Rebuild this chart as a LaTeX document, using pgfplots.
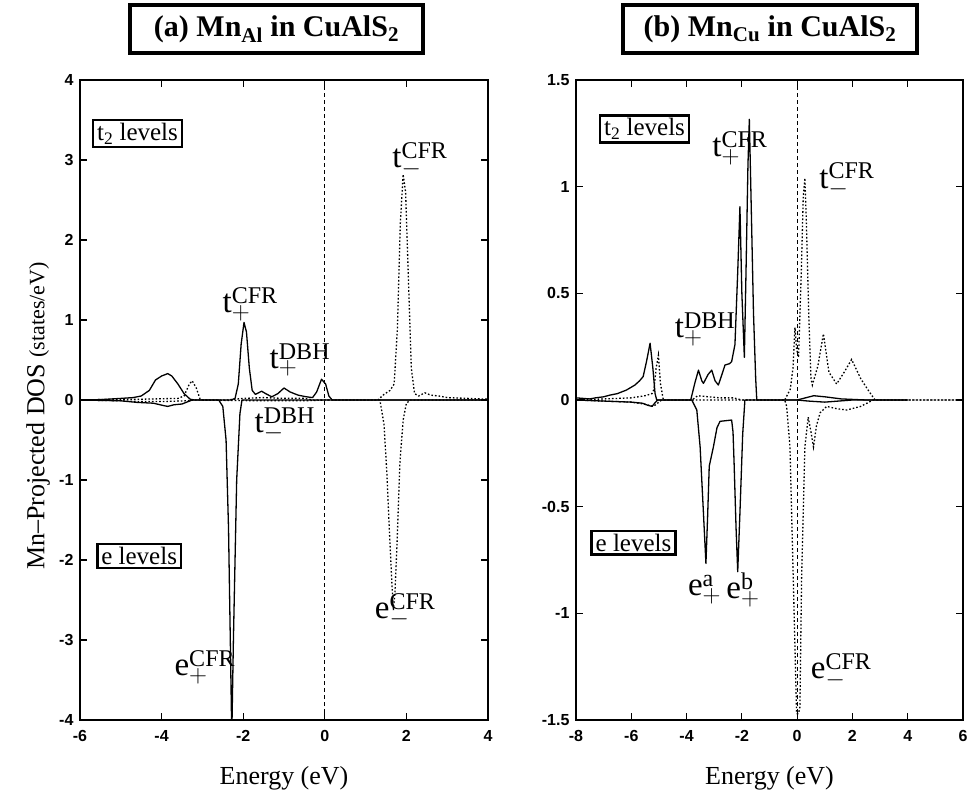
\documentclass[border=0pt]{standalone}
\usepackage{fontspec}
\setmainfont{Liberation Serif}
\newfontfamily\tickfont{Liberation Sans}
\usepackage{pgfplots}
\pgfplotsset{compat=1.18}
\DeclareMathSizes{33}{33}{24}{18}
\newcommand{\lab}{\fontsize{33}{33}\selectfont}
\tikzset{lbox/.style={draw, line width=2.5pt, fill=white, inner xsep=4pt, inner ysep=3pt, font=\fontsize{25}{25}\selectfont}}
\begin{document}
\begin{tikzpicture}[x=1pt,y=1pt]
\path[use as bounding box] (0,0) rectangle (968,800);
\pgfplotsset{
  dosaxis/.style={
    scale only axis, anchor=south west,
    axis line style={line width=1.6pt},
    every tick/.style={line width=1.2pt, black},
    major tick length=7pt, tick align=inside,
    ticklabel style={font=\fontsize{16}{16}\selectfont\tickfont\bfseries},
    /pgf/number format/assume math mode=true,
    xticklabel style={yshift=-7pt},
    yticklabel style={xshift=-3pt},
  },
  solidc/.style={black, line width=1.3pt, line join=round},
  dotc/.style={black, line width=1.3pt, dash pattern=on 1.6pt off 2pt},
  zeroc/.style={black, line width=0.9pt, dash pattern=on 4pt off 3pt},
}
% ---------- panel (a)
\begin{axis}[dosaxis, at={(80pt,80pt)}, width=408pt, height=640pt,
  xmin=-6, xmax=4, ymin=-4, ymax=4,
  xtick={-6,-4,...,4}, ytick={-4,-3,...,4}]
\addplot[zeroc] coordinates {(0,-4) (0,4)};
% t2 spin up
\addplot[solidc] coordinates {(-6,0) (-5.5,0.005) (-5.0,0.02) (-4.7,0.03) (-4.5,0.05) (-4.3,0.12) (-4.15,0.25) (-4.0,0.3) (-3.85,0.33) (-3.75,0.3) (-3.6,0.2) (-3.45,0.08) (-3.3,0.01) (-3.2,0) (-2.3,0) (-2.2,0.02) (-2.12,0.2) (-2.05,0.7) (-1.98,0.97) (-1.92,0.85) (-1.85,0.4) (-1.78,0.12) (-1.7,0.07) (-1.55,0.11) (-1.45,0.08) (-1.3,0.04) (-1.15,0.08) (-1.0,0.15) (-0.85,0.1) (-0.65,0.06) (-0.45,0.04) (-0.3,0.03) (-0.2,0.1) (-0.08,0.26) (0.02,0.2) (0.1,0.05) (0.18,0) (4,0)};
% t2 spin down
\addplot[dotc] coordinates {(-6,0) (-5,0.01) (-4.5,0.01) (-3.6,0.02) (-3.45,0.05) (-3.32,0.2) (-3.25,0.24) (-3.15,0.15) (-3.05,0) (-2.4,0) (-2.0,0.02) (-1.5,0.03) (-1.0,0.02) (-0.5,0.02) (-0.3,0) (1.3,0) (1.45,0.07) (1.6,0.12) (1.7,0.2) (1.78,0.9) (1.85,2.2) (1.92,2.82) (1.98,2.6) (2.05,1.5) (2.12,0.4) (2.2,0.08) (2.3,0.05) (2.45,0.09) (2.6,0.06) (2.8,0.05) (3.0,0.03) (3.5,0.02) (4,0.01)};
% e spin up
\addplot[solidc] coordinates {(-6,0) (-5.0,-0.01) (-4.6,-0.03) (-4.2,-0.04) (-3.95,-0.07) (-3.85,-0.08) (-3.7,-0.06) (-3.5,-0.05) (-3.35,-0.02) (-3.25,0) (-2.6,0) (-2.5,-0.08) (-2.42,-0.5) (-2.36,-1.6) (-2.31,-3.2) (-2.28,-4.2) (-2.24,-3.0) (-2.16,-1.0) (-2.08,-0.17) (-2.03,0) (4,0)};
% e spin down
\addplot[dotc] coordinates {(-6,0) (-5,-0.01) (-4.5,-0.02) (-4,-0.02) (-3.4,-0.01) (-3.2,0) (-1.5,-0.01) (-0.5,-0.01) (0,0) (1.35,0) (1.45,-0.3) (1.52,-0.9) (1.58,-1.6) (1.64,-2.25) (1.68,-2.63) (1.72,-2.4) (1.77,-1.8) (1.84,-0.79) (1.92,-0.25) (2.0,-0.04) (2.1,0) (4,0)};
\node[font=\lab] at (axis cs:2.33,3.0) {$\mathrm{t}^{\mathrm{CFR}}_{-}$};
\node[font=\lab] at (axis cs:-1.83,1.2) {$\mathrm{t}^{\mathrm{CFR}}_{+}$};
\node[font=\lab] at (axis cs:-0.61,0.5) {$\mathrm{t}^{\mathrm{DBH}}_{+}$};
\node[font=\lab] at (axis cs:-0.98,-0.31) {$\mathrm{t}^{\mathrm{DBH}}_{-}$};
\node[font=\lab] at (axis cs:-2.94,-3.34) {$\mathrm{e}^{\mathrm{CFR}}_{+}$};
\node[font=\lab] at (axis cs:1.97,-2.63) {$\mathrm{e}^{\mathrm{CFR}}_{-}$};
\node[lbox] at (axis cs:-4.59,3.33) {t\textsubscript{2} levels};
\node[lbox] at (axis cs:-4.55,-1.95) {e levels};
\end{axis}
% ---------- panel (b)
\begin{axis}[dosaxis, at={(576pt,80pt)}, width=387pt, height=640pt,
  xmin=-8, xmax=6, ymin=-1.5, ymax=1.5,
  xtick={-8,-6,...,6}, ytick={-1.5,-1,...,1.5}]
\addplot[zeroc] coordinates {(0,-1.5) (0,1.5)};
% t2 spin up
\addplot[solidc] coordinates {(-8,0.01) (-7.5,0.005) (-7.3,0.01) (-7,0.015) (-6.77,0.023) (-6.5,0.03) (-6.17,0.047) (-5.87,0.07) (-5.7,0.09) (-5.57,0.11) (-5.45,0.18) (-5.32,0.266) (-5.22,0.15) (-5.14,0.03) (-5.08,0) (-3.85,0) (-3.7,0.08) (-3.57,0.14) (-3.45,0.09) (-3.39,0.078) (-3.22,0.12) (-3.09,0.14) (-2.97,0.09) (-2.85,0.07) (-2.72,0.12) (-2.61,0.164) (-2.45,0.17) (-2.37,0.18) (-2.25,0.26) (-2.15,0.6) (-2.07,0.906) (-2.0,0.5) (-1.91,0.2) (-1.85,0.6) (-1.78,1.1) (-1.73,1.316) (-1.66,0.9) (-1.58,0.41) (-1.5,0.1) (-1.46,0) (0,0) (0.3,0.01) (0.6,0.02) (1.0,0.015) (1.3,0.01) (1.6,0.005) (2.5,0) (4,0)};
% t2 spin down
\addplot[dotc] coordinates {(-8,0) (-7,0.005) (-6,0.01) (-5.5,0.02) (-5.25,0.03) (-5.18,0.05) (-5.1,0.15) (-5.02,0.21) (-4.95,0.08) (-4.84,0) (-3.8,0) (-3.6,0.02) (-3.2,0.015) (-2.8,0.01) (-2.3,0.01) (-2.0,0) (-0.45,0) (-0.25,0.05) (-0.15,0.15) (-0.08,0.34) (-0.02,0.24) (0.05,0.2) (0.15,0.6) (0.22,0.95) (0.28,1.04) (0.33,0.85) (0.42,0.4) (0.5,0.1) (0.55,0.07) (0.75,0.16) (0.95,0.31) (1.15,0.13) (1.43,0.075) (1.7,0.13) (1.97,0.19) (2.3,0.1) (2.6,0.04) (2.82,0) (6,0)};
% e spin up
\addplot[solidc] coordinates {(-8,0) (-7,-0.005) (-6,-0.01) (-5.6,-0.015) (-5.4,-0.025) (-5.25,-0.03) (-5.12,-0.01) (-5.05,0) (-3.81,0) (-3.63,-0.047) (-3.51,-0.22) (-3.39,-0.53) (-3.3,-0.766) (-3.24,-0.55) (-3.18,-0.31) (-3.03,-0.22) (-2.9,-0.13) (-2.79,-0.10) (-2.37,-0.094) (-2.32,-0.15) (-2.28,-0.3) (-2.21,-0.6) (-2.15,-0.805) (-2.07,-0.53) (-1.97,-0.16) (-1.89,0) (0,0) (0.4,-0.005) (1.0,-0.01) (2.0,0) (4,0)};
% e spin down
\addplot[dotc] coordinates {(-8,0) (-6,-0.01) (-5.5,-0.02) (-5.2,-0.03) (-5.0,-0.01) (-4.9,0) (-0.45,0) (-0.38,-0.03) (-0.26,-0.22) (-0.14,-0.84) (-0.02,-1.47) (0.05,-1.47) (0.10,-1.44) (0.16,-0.84) (0.28,-0.22) (0.40,-0.08) (0.5,-0.15) (0.59,-0.22) (0.7,-0.12) (0.83,-0.06) (1.07,-0.03) (1.4,-0.04) (1.79,-0.047) (2.3,-0.03) (2.75,0) (6,0)};
\node[font=\lab] at (axis cs:-2.07,1.18) {$\mathrm{t}^{\mathrm{CFR}}_{+}$};
\node[font=\lab] at (axis cs:1.8,1.03) {$\mathrm{t}^{\mathrm{CFR}}_{-}$};
\node[font=\lab] at (axis cs:-3.33,0.33) {$\mathrm{t}^{\mathrm{DBH}}_{+}$};
\node[font=\lab] at (axis cs:-3.35,-0.89) {$\mathrm{e}^{\mathrm{a}}_{+}$};
\node[font=\lab] at (axis cs:-1.96,-0.89) {$\mathrm{e}^{\mathrm{b}}_{+}$};
\node[font=\lab] at (axis cs:1.59,-1.27) {$\mathrm{e}^{\mathrm{CFR}}_{-}$};
\node[lbox] at (axis cs:-5.52,1.27) {t\textsubscript{2} levels};
\node[lbox] at (axis cs:-5.92,-0.67) {e levels};
\end{axis}
% titles and labels
\node[draw, line width=3.5pt, minimum width=293pt, minimum height=48pt, inner sep=0pt, font=\fontsize{30}{30}\selectfont\bfseries] at (276.5,771) {(a) Mn\textsubscript{Al} in CuAlS\textsubscript{2}};
\node[draw, line width=3.5pt, minimum width=294pt, minimum height=48pt, inner sep=0pt, font=\fontsize{30}{30}\selectfont\bfseries] at (770,771) {(b) Mn\textsubscript{Cu} in CuAlS\textsubscript{2}};
\node[font=\fontsize{26}{26}\selectfont] at (284,22) {Energy (eV)};
\node[font=\fontsize{26}{26}\selectfont] at (769.5,22) {Energy (eV)};
\node[rotate=90, font=\fontsize{26}{26}\selectfont] at (38,384) {Mn\textendash Projected DOS {\fontsize{22}{22}\selectfont(states/eV)}};
\end{tikzpicture}
\end{document}
